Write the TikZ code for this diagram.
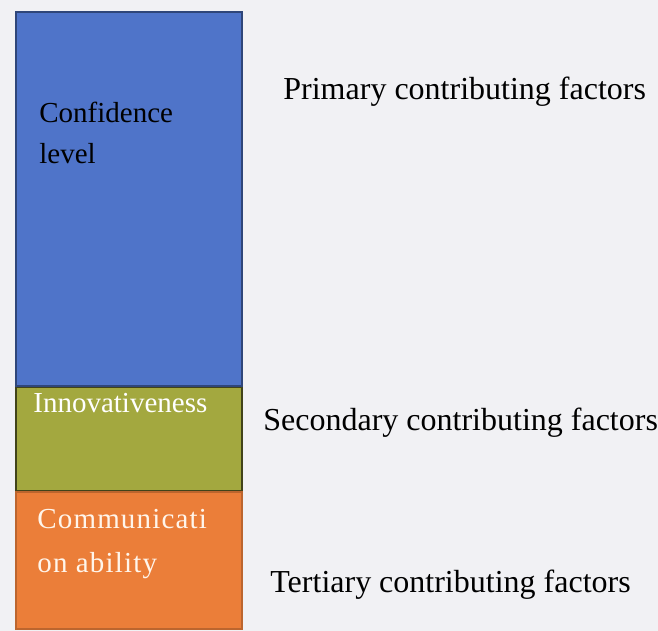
\documentclass[tikz,border=0pt]{standalone}
\usepackage{fontspec}
\setmainfont{Liberation Serif}
\usetikzlibrary{positioning}

\definecolor{confblue}{HTML}{4F74C9}
\definecolor{innoolive}{HTML}{A3A83F}
\definecolor{commorange}{HTML}{EB7E39}
\definecolor{paper}{HTML}{F1F1F4}

\tikzset{
  segment/.style={draw, line width=0.8pt, inner sep=0pt, minimum width=113pt},
  seglabel/.style={anchor=base west, font=\fontsize{14.5}{20}\selectfont, inner sep=0pt},
  factor/.style={anchor=base west, font=\fontsize{16}{20}\selectfont, inner sep=0pt}
}

\begin{document}
\begin{tikzpicture}[x=0.5pt,y=-0.5pt]
	\fill[paper] (0,0) rectangle (658,631);
	\useasboundingbox (0,0) rectangle (658,631);
	% stacked bar
	\node[segment, fill=confblue, draw=confblue!60!black, minimum height=187pt, anchor=north west] (conf) at (15,11) {};
	\node[segment, fill=innoolive, draw=innoolive!40!black, minimum height=51.5pt, below=0pt of conf] (inno) {};
	\node[segment, fill=commorange, draw=commorange!80!black, minimum height=68.5pt, below=0pt of inno] (comm) {};
	% labels inside the bar
	\node[seglabel] (conf1) at (39,122) {Confidence};
	\node[seglabel] (conf2) at (39,163) {level};
	\node[seglabel, text=white] (innol) at (33,412) {Innovativeness};
	\node[seglabel, text=white!92!orange] (comm1) at (37,528) {\addfontfeature{LetterSpace=4}Communicati};
	\node[seglabel, text=white!92!orange] (comm2) at (37,572) {\addfontfeature{LetterSpace=4}on ability};
	% factor levels
	\node[factor] (prim) at (283,100) {Primary contributing factors};
	\node[factor] (sec) at (263,430) {Secondary contributing factors};
	\node[factor] (ter) at (270,592) {Tertiary contributing factors};
\end{tikzpicture}
\end{document}
